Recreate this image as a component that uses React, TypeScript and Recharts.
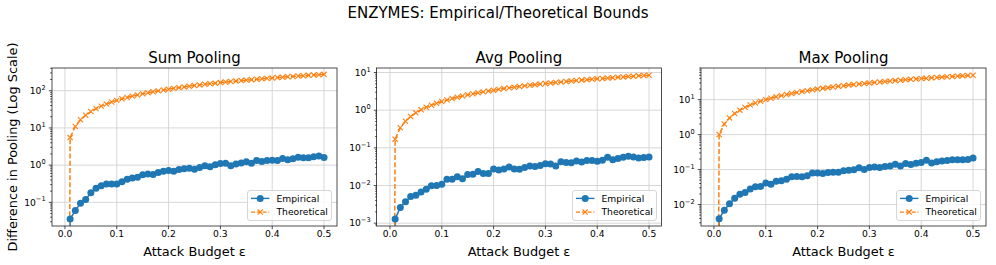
import { CartesianGrid, Legend, Line, LineChart, XAxis, YAxis } from "recharts";

const FONT = "DejaVu Sans, Verdana, sans-serif";
const BLUE = "#1f77b4";
const ORANGE = "#ff7f0e";
const INK = "#000";

// attack budgets (x values); eps = 0 gives zero difference
const budgets = [
  0, 0.01, 0.02, 0.03, 0.04, 0.05, 0.06, 0.07, 0.08, 0.09, 0.1,
  0.11, 0.12, 0.13, 0.14, 0.15, 0.16, 0.17, 0.18, 0.19, 0.2,
  0.21, 0.22, 0.23, 0.24, 0.25, 0.26, 0.27, 0.28, 0.29, 0.3,
  0.31, 0.32, 0.33, 0.34, 0.35, 0.36, 0.37, 0.38, 0.39, 0.4,
  0.41, 0.42, 0.43, 0.44, 0.45, 0.46, 0.47, 0.48, 0.49, 0.5,
];
const xTicks = [0, 0.1, 0.2, 0.3, 0.4, 0.5];
const seriesNames = ["Empirical", "Theoretical"];

const sumEmpirical = [
  0, 0.036, 0.06, 0.095, 0.12, 0.18, 0.24, 0.28, 0.31, 0.31, 0.31,
  0.36, 0.42, 0.45, 0.47, 0.55, 0.58, 0.56, 0.63, 0.69, 0.72,
  0.69, 0.76, 0.8, 0.83, 0.78, 0.87, 0.96, 0.9, 1.02, 1.1,
  1.13, 0.96, 1.08, 1.15, 1.23, 1.13, 1.34, 1.25, 1.34, 1.36,
  1.34, 1.51, 1.39, 1.48, 1.64, 1.58, 1.58, 1.68, 1.75, 1.61,
];
const sumTheoretical = [
  0, 5.5, 11, 16.5, 22, 27.5, 33, 38.5, 44, 49.5, 55,
  60.5, 66, 71.5, 77, 82.5, 88, 93.5, 99, 104.5, 110,
  115.5, 121, 126.5, 132, 137.5, 143, 148.5, 154, 159.5, 165,
  170.5, 176, 181.5, 187, 192.5, 198, 203.5, 209, 214.5, 220,
  225.5, 231, 236.5, 242, 247.5, 253, 258.5, 264, 269.5, 275,
];

const avgEmpirical = [
  0, 0.0013, 0.0026, 0.0037, 0.0051, 0.0055, 0.0067, 0.0079, 0.0098, 0.01, 0.0108,
  0.0147, 0.0147, 0.017, 0.015, 0.0195, 0.02, 0.0234, 0.0208, 0.0208, 0.0276,
  0.026, 0.0276, 0.031, 0.0276, 0.027, 0.03, 0.033, 0.032, 0.034, 0.038,
  0.037, 0.033, 0.043, 0.041, 0.04, 0.045, 0.042, 0.046, 0.046, 0.044,
  0.047, 0.056, 0.048, 0.052, 0.056, 0.06, 0.057, 0.054, 0.055, 0.057,
];
const avgTheoretical = [
  0, 0.17, 0.34, 0.51, 0.68, 0.85, 1.02, 1.19, 1.36, 1.53, 1.7,
  1.87, 2.04, 2.21, 2.38, 2.55, 2.72, 2.89, 3.06, 3.23, 3.4,
  3.57, 3.74, 3.91, 4.08, 4.25, 4.42, 4.59, 4.76, 4.93, 5.1,
  5.27, 5.44, 5.61, 5.78, 5.95, 6.12, 6.29, 6.46, 6.63, 6.8,
  6.97, 7.14, 7.31, 7.48, 7.65, 7.82, 7.99, 8.16, 8.33, 8.5,
];

const maxEmpirical = [
  0, 0.0039, 0.0069, 0.0105, 0.015, 0.0196, 0.022, 0.028, 0.032, 0.033, 0.041,
  0.038, 0.046, 0.048, 0.053, 0.062, 0.063, 0.062, 0.066, 0.08, 0.08,
  0.077, 0.082, 0.084, 0.084, 0.092, 0.096, 0.098, 0.112, 0.1, 0.114,
  0.119, 0.114, 0.122, 0.127, 0.142, 0.127, 0.149, 0.139, 0.152, 0.159,
  0.185, 0.155, 0.166, 0.177, 0.181, 0.19, 0.19, 0.19, 0.195, 0.215,
];
const maxTheoretical = [
  0, 1, 2, 3, 4, 5, 6, 7, 8, 9, 10,
  11, 12, 13, 14, 15, 16, 17, 18, 19, 20,
  21, 22, 23, 24, 25, 26, 27, 28, 29, 30,
  31, 32, 33, 34, 35, 36, 37, 38, 39, 40,
  41, 42, 43, 44, 45, 46, 47, 48, 49, 50,
];

// layout
const TOP = 68;
const BOTTOM = 226;
const PLOT_W = 285;
const YW = 46;
const XH = 20;
const H = 265;
const LEG_W = 85;
const LEG_H = 31;

// like matplotlib's nonpositive="clip" on log axes
const LOG_FLOOR = 1e-30;
const clip = (v: number) => (v > 0 ? v : LOG_FLOOR);

const panels = [
  { title: "Sum Pooling", emp: sumEmpirical, th: sumTheoretical, domain: [0.02317, 407.4], left: 52 },
  { title: "Avg Pooling", emp: avgEmpirical, th: avgTheoretical, domain: [0.000841, 13.18], left: 376.5 },
  { title: "Max Pooling", emp: maxEmpirical, th: maxTheoretical, domain: [0.00243, 80.2], left: 701 },
];

function logTicks(lo: number, hi: number) {
  const out: number[] = [];
  for (let e = Math.floor(Math.log10(lo)); e <= Math.ceil(Math.log10(hi)); e++) {
    for (let m = 1; m < 10; m++) {
      const v = m * Math.pow(10, e);
      if (v >= lo && v <= hi) out.push(v);
    }
  }
  return out;
}
function majorTicks(lo: number, hi: number) {
  return logTicks(lo, hi).filter((v) => isMajor(v));
}
function isMajor(v: number) {
  const l = Math.log10(v);
  return Math.abs(l - Math.round(l)) < 1e-6;
}

function LogTick(props: any) {
  const { y, payload } = props;
  const v = payload.value;
  const major = isMajor(v);
  const ax = YW;
  const len = major ? 3.2 : 1.8;
  const e = Math.round(Math.log10(v));
  const exp = e < 0 ? "\u2212" + Math.abs(e) : String(e);
  return (
    <g>
      <line x1={ax - len} x2={ax} y1={y} y2={y} stroke={INK} strokeWidth={0.7} />
      {major && (
        <text x={ax - 6.4} y={y + 3.3} textAnchor="end" fontSize={9.2} fontFamily={FONT} fill={INK}>
          <tspan>10</tspan>
          <tspan dy={-4.3} fontSize={6.6}>{exp}</tspan>
        </text>
      )}
    </g>
  );
}

function XMark(props: any) {
  const { cx, cy } = props;
  if (cx == null || cy == null || !isFinite(cy)) return null;
  const s = 2.6;
  return (
    <path
      d={`M${cx - s},${cy - s}L${cx + s},${cy + s}M${cx - s},${cy + s}L${cx + s},${cy - s}`}
      stroke={ORANGE}
      strokeWidth={1.1}
      fill="none"
    />
  );
}

function BoundsLegend({ payload }: any) {
  const items = payload && payload.length ? payload : seriesNames.map((n) => ({ value: n, dataKey: n }));
  return (
    <div
      style={{
        width: LEG_W,
        height: LEG_H,
        boxSizing: "border-box",
        border: "1px solid #d6d6d6",
        borderRadius: 3,
        background: "rgba(255,255,255,0.8)",
      }}
    >
      <svg width={LEG_W - 2} height={LEG_H - 2} style={{ display: "block" }}>
        {items.map((it: any, i: number) => {
          const cy = 7.4 + i * 13.7;
          const theo = it.dataKey === "Theoretical";
          const color = theo ? ORANGE : BLUE;
          return (
            <g key={it.value}>
              <line
                x1={3}
                x2={21.4}
                y1={cy}
                y2={cy}
                stroke={color}
                strokeWidth={1.4}
                strokeDasharray={theo ? "4 1.8" : undefined}
              />
              {theo ? <XMark cx={12.2} cy={cy} /> : <circle cx={12.2} cy={cy} r={3.5} fill={BLUE} />}
              <text x={28.5} y={cy + 3.3} fontSize={9.2} fontFamily={FONT} fill={INK}>
                {it.value}
              </text>
            </g>
          );
        })}
      </svg>
    </div>
  );
}

function Panel({ p }: { p: (typeof panels)[number] }) {
  const rows = budgets.map((eps, i) => ({
    eps,
    Empirical: clip(p.emp[i]),
    Theoretical: clip(p.th[i]),
  }));
  const [lo, hi] = p.domain;
  const width = YW + PLOT_W + 4;
  return (
    <div style={{ position: "absolute", left: p.left - YW, top: 0 }}>
      <LineChart
        width={width}
        height={H}
        data={rows}
        margin={{ top: TOP, right: 4, left: 0, bottom: H - BOTTOM - XH }}
      >
        <CartesianGrid
          stroke="#d2d2d2"
          strokeWidth={0.9}
          horizontalValues={majorTicks(lo, hi)}
          verticalValues={xTicks}
        />
        <XAxis
          type="number"
          dataKey="eps"
          domain={[-0.025, 0.525]}
          allowDataOverflow
          ticks={xTicks}
          interval={0}
          tickFormatter={(v: number) => v.toFixed(1)}
          axisLine={false}
          tickLine={{ stroke: INK, strokeWidth: 0.7 }}
          tickSize={3.2}
          tickMargin={1}
          height={XH}
          tick={{ fontSize: 9.2, fill: INK, fontFamily: FONT }}
        />
        <YAxis
          scale="log"
          type="number"
          domain={[lo, hi]}
          allowDataOverflow
          ticks={logTicks(lo, hi)}
          interval={0}
          axisLine={false}
          tickLine={false}
          width={YW}
          tick={<LogTick />}
        />
        <Line
          type="linear"
          dataKey="Empirical"
          name="Empirical"
          stroke={BLUE}
          strokeWidth={1.5}
          dot={{ r: 3.5, fill: BLUE, stroke: BLUE, strokeWidth: 0 }}
          isAnimationActive={false}
        />
        <Line
          type="linear"
          dataKey="Theoretical"
          name="Theoretical"
          stroke={ORANGE}
          strokeWidth={1.5}
          strokeDasharray="5 2.2"
          dot={<XMark />}
          isAnimationActive={false}
        />
        <Legend
          layout="vertical"
          align="center"
          verticalAlign="middle"
          content={(props: any) => <BoundsLegend payload={props.payload} />}
          wrapperStyle={{
            left: YW + PLOT_W - 4.6 - LEG_W,
            top: BOTTOM - 4.6 - LEG_H,
            width: LEG_W,
            height: LEG_H,
          }}
        />
      </LineChart>
    </div>
  );
}

export default function App() {
  return (
    <div style={{ position: "relative", width: 996, height: 265, background: "#fff", fontFamily: FONT }}>
      <style>{"body{margin:0}"}</style>
      {panels.map((p) => (
        <Panel key={p.title} p={p} />
      ))}
      <svg
        width={996}
        height={265}
        style={{ position: "absolute", left: 0, top: 0, pointerEvents: "none" }}
        fontFamily={FONT}
      >
        <text x={498} y={18.3} textAnchor="middle" fontSize={15} fill={INK}>
          ENZYMES: Empirical/Theoretical Bounds
        </text>
        <text
          x={12}
          y={(TOP + BOTTOM) / 2}
          textAnchor="middle"
          dominantBaseline="central"
          fontSize={12.9}
          fill={INK}
          transform={`rotate(-90, 12, ${(TOP + BOTTOM) / 2})`}
        >
          Difference in Pooling (Log Scale)
        </text>
        {panels.map((p) => (
          <g key={p.title}>
            <text x={p.left + PLOT_W / 2} y={63} textAnchor="middle" fontSize={15} fill={INK}>
              {p.title}
            </text>
            <text x={p.left + PLOT_W / 2} y={255.5} textAnchor="middle" fontSize={12.9} fill={INK}>
              Attack Budget ε
            </text>
            <rect x={p.left} y={TOP} width={PLOT_W} height={BOTTOM - TOP} fill="none" stroke="#222" strokeWidth={0.8} />
          </g>
        ))}
      </svg>
    </div>
  );
}
